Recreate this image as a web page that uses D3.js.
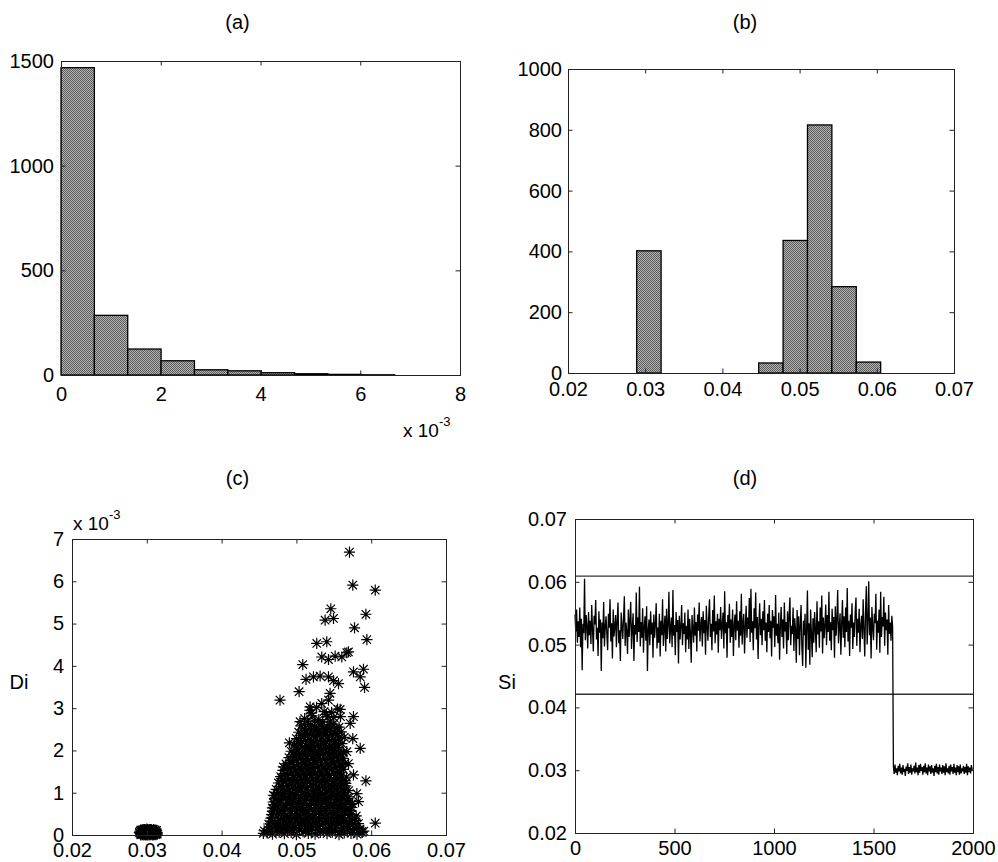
<!DOCTYPE html>
<html>
<head>
<meta charset="utf-8">
<script src="https://cdn.jsdelivr.net/npm/d3@7"></script>
<style>
  html, body { margin: 0; padding: 0; background: #fff; }
  svg { display: block; }
  text { font-family: "Liberation Sans", Arial, Helvetica, sans-serif; fill: #000; }
</style>
</head>
<body>
<svg id="fig" width="998" height="862"></svg>
<script>
// ---------------- data ----------------
// (a) histogram of Di, bin edges in units of 10^-3
const diBinEdges = [0, 0.669, 1.338, 2.007, 2.676, 3.345, 4.014, 4.683, 5.352, 6.021, 6.69];
const diCounts   = [1468, 285, 124, 68, 25, 20, 11, 6, 3, 1];
const diTicks    = [0, 2, 4, 6, 8];
const countTicksA = [0, 500, 1000, 1500];

// (b) histogram of Si
const siBinEdges = [0.0289, 0.03206, 0.03522, 0.03838, 0.04154, 0.0447, 0.04786, 0.05102, 0.05418, 0.05734, 0.0605];
const siCounts   = [402, 0, 0, 0, 0, 33, 436, 816, 284, 36];
const siTicks    = [0.02, 0.03, 0.04, 0.05, 0.06, 0.07];
const countTicksB = [0, 200, 400, 600, 800, 1000];

// (c) Di against Si, pairs [Si, Di (10^-3)]
const scatterPoints = [
  // group near Si = 0.03
  [0.0292,0.02],[0.0295,0.08],[0.0298,0.01],[0.0300,0.11],[0.0303,0.04],[0.0306,0.09],[0.0309,0.02],[0.0311,0.07],
  [0.0313,0.03],[0.0294,0.12],[0.0297,0.05],[0.0301,0.00],[0.0304,0.13],[0.0307,0.05],[0.0310,0.10],[0.0299,0.07],
  [0.0302,0.03],[0.0296,0.00],[0.0308,0.00],[0.0305,0.01],[0.0293,0.06],[0.0312,0.01],[0.0300,0.14],[0.0303,0.10],
  [0.0291,0.04],[0.0294,0.01],[0.0297,0.10],[0.0299,0.03],[0.0302,0.08],[0.0305,0.12],[0.0308,0.06],[0.0311,0.12],
  [0.0314,0.05],[0.0293,0.10],[0.0296,0.13],[0.0298,0.05],[0.0301,0.09],[0.0304,0.02],[0.0307,0.11],[0.0309,0.08],
  [0.0312,0.09],[0.0295,0.03],[0.0300,0.05],[0.0306,0.03],[0.0310,0.04],[0.0298,0.12],[0.0303,0.00],[0.0313,0.11],
  [0.0291,0.09],[0.0292,0.12],[0.0294,0.05],[0.0296,0.07],[0.0297,0.02],[0.0299,0.11],[0.0300,0.02],[0.0301,0.13],
  [0.0302,0.06],[0.0303,0.13],[0.0304,0.07],[0.0305,0.05],[0.0306,0.13],[0.0307,0.01],[0.0308,0.10],[0.0309,0.13],
  [0.0310,0.01],[0.0311,0.03],[0.0312,0.05],[0.0313,0.07],[0.0314,0.02],[0.0295,0.11],[0.0298,0.09],[0.0290,0.06],
  [0.0292,0.00],[0.0299,0.00],[0.0305,0.09],[0.0310,0.07],[0.0297,0.13],[0.0302,0.11],
  // main group
  [0.0461,0.05],[0.0468,0.02],[0.0477,0.07],[0.0484,0.03],[0.0493,0.06],[0.0500,0.01],[0.0509,0.08],[0.0516,0.04],
  [0.0525,0.02],[0.0532,0.06],[0.0541,0.03],[0.0548,0.07],[0.0557,0.01],[0.0564,0.05],[0.0573,0.04],[0.0581,0.02],[0.0588,0.06],
  [0.0457,0.10],[0.0465,0.12],[0.0473,0.09],[0.0480,0.11],[0.0488,0.13],[0.0496,0.10],[0.0504,0.12],[0.0512,0.09],
  [0.0520,0.11],[0.0528,0.13],[0.0536,0.10],[0.0544,0.12],[0.0552,0.09],[0.0560,0.11],[0.0568,0.13],[0.0576,0.10],[0.0584,0.12],[0.0590,0.09],
  [0.0464,0.18],[0.0472,0.21],[0.0481,0.15],[0.0489,0.20],[0.0497,0.17],[0.0505,0.22],[0.0513,0.16],[0.0521,0.19],
  [0.0529,0.21],[0.0537,0.15],[0.0545,0.18],[0.0553,0.22],[0.0561,0.17],[0.0569,0.20],[0.0577,0.16],[0.0585,0.14],
  [0.0463,0.26],[0.0471,0.28],[0.0479,0.25],[0.0487,0.27],[0.0495,0.26],[0.0503,0.28],[0.0511,0.25],[0.0519,0.27],
  [0.0527,0.26],[0.0535,0.28],[0.0543,0.25],[0.0551,0.27],[0.0559,0.26],[0.0567,0.28],[0.0575,0.25],[0.0583,0.27],
  [0.0466,0.33],[0.0475,0.30],[0.0483,0.35],[0.0491,0.31],[0.0499,0.36],[0.0507,0.32],[0.0515,0.34],[0.0523,0.30],
  [0.0531,0.36],[0.0539,0.33],[0.0547,0.31],[0.0555,0.35],[0.0563,0.32],[0.0571,0.30],[0.0579,0.34],
  [0.0466,0.40],[0.0474,0.42],[0.0482,0.39],[0.0490,0.41],[0.0498,0.40],[0.0506,0.42],[0.0514,0.39],[0.0522,0.41],
  [0.0530,0.40],[0.0538,0.42],[0.0546,0.39],[0.0554,0.41],[0.0562,0.40],[0.0570,0.42],[0.0578,0.39],
  [0.0467,0.48],[0.0476,0.51],[0.0485,0.46],[0.0493,0.50],[0.0501,0.47],[0.0509,0.52],[0.0517,0.45],[0.0525,0.49],
  [0.0533,0.51],[0.0541,0.47],[0.0549,0.50],[0.0557,0.46],[0.0565,0.52],[0.0573,0.48],[0.0580,0.45],
  [0.0468,0.56],[0.0476,0.58],[0.0484,0.55],[0.0492,0.57],[0.0500,0.56],[0.0508,0.58],[0.0516,0.55],[0.0524,0.57],
  [0.0532,0.56],[0.0540,0.58],[0.0548,0.55],[0.0556,0.57],[0.0564,0.56],[0.0572,0.58],
  [0.0468,0.64],[0.0478,0.61],[0.0486,0.66],[0.0494,0.62],[0.0502,0.67],[0.0510,0.60],[0.0518,0.65],[0.0526,0.63],
  [0.0534,0.61],[0.0542,0.66],[0.0550,0.62],[0.0558,0.64],[0.0566,0.60],[0.0574,0.65],
  [0.0470,0.71],[0.0478,0.73],[0.0486,0.70],[0.0494,0.72],[0.0502,0.71],[0.0510,0.73],[0.0518,0.70],[0.0526,0.72],
  [0.0534,0.71],[0.0542,0.73],[0.0550,0.70],[0.0558,0.72],[0.0566,0.71],[0.0573,0.73],
  [0.0469,0.78],[0.0479,0.81],[0.0487,0.76],[0.0495,0.80],[0.0503,0.77],[0.0511,0.82],[0.0519,0.75],[0.0527,0.79],
  [0.0535,0.81],[0.0543,0.77],[0.0551,0.80],[0.0559,0.76],[0.0567,0.82],[0.0575,0.74],
  [0.0474,0.86],[0.0482,0.88],[0.0490,0.85],[0.0498,0.87],[0.0506,0.86],[0.0514,0.88],[0.0522,0.85],[0.0530,0.87],
  [0.0538,0.86],[0.0546,0.88],[0.0554,0.85],[0.0562,0.87],[0.0569,0.86],
  [0.0471,0.93],[0.0481,0.96],[0.0489,0.91],[0.0497,0.95],[0.0505,0.92],[0.0513,0.97],[0.0521,0.90],[0.0529,0.94],
  [0.0537,0.96],[0.0545,0.91],[0.0553,0.95],[0.0561,0.92],[0.0569,0.90],
  [0.0476,1.00],[0.0484,1.02],[0.0492,0.99],[0.0500,1.01],[0.0508,1.00],[0.0516,1.02],[0.0524,0.99],[0.0532,1.01],
  [0.0540,1.00],[0.0548,1.02],[0.0556,0.99],[0.0564,1.01],
  [0.0473,1.08],[0.0483,1.11],[0.0491,1.06],[0.0499,1.10],[0.0507,1.07],[0.0515,1.12],[0.0523,1.05],[0.0531,1.09],
  [0.0539,1.11],[0.0547,1.06],[0.0555,1.10],[0.0563,1.07],[0.0570,1.05],
  [0.0478,1.15],[0.0487,1.17],[0.0495,1.14],[0.0503,1.16],[0.0511,1.15],[0.0519,1.17],[0.0527,1.14],[0.0535,1.16],
  [0.0543,1.15],[0.0551,1.17],[0.0559,1.14],[0.0566,1.16],
  [0.0476,1.23],[0.0486,1.26],[0.0494,1.21],[0.0502,1.25],[0.0510,1.22],[0.0518,1.27],[0.0526,1.20],[0.0534,1.24],
  [0.0542,1.26],[0.0550,1.21],[0.0558,1.25],[0.0566,1.22],
  [0.0481,1.30],[0.0490,1.32],[0.0498,1.29],[0.0506,1.31],[0.0514,1.30],[0.0522,1.32],[0.0530,1.29],[0.0538,1.31],
  [0.0546,1.30],[0.0554,1.32],[0.0562,1.29],
  [0.0479,1.38],[0.0488,1.41],[0.0496,1.36],[0.0504,1.40],[0.0512,1.37],[0.0520,1.42],[0.0528,1.35],[0.0536,1.39],
  [0.0544,1.41],[0.0552,1.36],[0.0560,1.40],[0.0567,1.37],
  [0.0485,1.45],[0.0494,1.47],[0.0502,1.44],[0.0510,1.46],[0.0518,1.45],[0.0526,1.47],[0.0534,1.44],[0.0542,1.46],
  [0.0550,1.45],[0.0558,1.47],
  [0.0482,1.53],[0.0491,1.56],[0.0499,1.51],[0.0507,1.55],[0.0515,1.52],[0.0523,1.57],[0.0531,1.50],[0.0539,1.54],
  [0.0547,1.56],[0.0555,1.51],[0.0563,1.55],
  [0.0489,1.60],[0.0497,1.62],[0.0505,1.59],[0.0513,1.61],[0.0521,1.60],[0.0529,1.62],[0.0537,1.59],[0.0545,1.61],
  [0.0553,1.60],[0.0560,1.62],
  [0.0486,1.68],[0.0494,1.71],[0.0502,1.66],[0.0510,1.70],[0.0518,1.67],[0.0526,1.72],[0.0534,1.65],[0.0542,1.69],
  [0.0550,1.71],[0.0558,1.66],[0.0565,1.70],
  [0.0492,1.76],[0.0500,1.78],[0.0508,1.75],[0.0516,1.77],[0.0524,1.76],[0.0532,1.78],[0.0540,1.75],[0.0548,1.77],[0.0556,1.76],
  [0.0490,1.83],[0.0498,1.86],[0.0506,1.81],[0.0514,1.85],[0.0522,1.82],[0.0530,1.87],[0.0538,1.80],[0.0546,1.84],
  [0.0554,1.86],[0.0562,1.81],
  [0.0496,1.91],[0.0504,1.93],[0.0512,1.90],[0.0520,1.92],[0.0528,1.91],[0.0536,1.93],[0.0544,1.90],[0.0552,1.92],[0.0559,1.91],
  [0.0493,1.98],[0.0501,2.01],[0.0509,1.96],[0.0517,2.00],[0.0525,1.97],[0.0533,2.02],[0.0541,1.95],[0.0549,1.99],
  [0.0557,2.01],[0.0563,1.96],
  [0.0500,2.06],[0.0508,2.08],[0.0516,2.05],[0.0524,2.07],[0.0532,2.06],[0.0540,2.08],[0.0548,2.05],[0.0556,2.07],
  [0.0497,2.13],[0.0505,2.16],[0.0513,2.11],[0.0521,2.15],[0.0529,2.12],[0.0537,2.17],[0.0545,2.10],[0.0553,2.14],[0.0561,2.16],
  [0.0503,2.21],[0.0512,2.23],[0.0520,2.20],[0.0528,2.22],[0.0536,2.21],[0.0544,2.23],[0.0552,2.20],
  [0.0500,2.28],[0.0509,2.31],[0.0517,2.26],[0.0525,2.30],[0.0533,2.27],[0.0541,2.32],[0.0549,2.25],[0.0557,2.29],[0.0564,2.31],
  [0.0507,2.36],[0.0515,2.38],[0.0523,2.35],[0.0531,2.37],[0.0539,2.36],[0.0547,2.38],[0.0555,2.35],
  [0.0503,2.43],[0.0512,2.46],[0.0520,2.41],[0.0528,2.45],[0.0536,2.42],[0.0544,2.47],[0.0552,2.40],[0.0560,2.44],
  [0.0511,2.51],[0.0519,2.53],[0.0527,2.50],[0.0537,2.52],[0.0545,2.51],[0.0553,2.53],
  [0.0506,2.58],[0.0516,2.61],[0.0524,2.56],[0.0533,2.60],[0.0541,2.57],[0.0549,2.62],[0.0557,2.55],
  [0.0515,2.68],[0.0525,2.70],[0.0535,2.67],[0.0545,2.69],
  [0.0511,2.75],[0.0521,2.82],[0.0530,2.73],[0.0540,2.85],[0.0550,2.78],[0.0559,2.80],
  [0.0520,2.88],[0.0537,2.92],[0.0542,2.80],
  [0.0518,2.95],[0.0527,3.02],[0.0547,2.90],[0.0555,2.98],
  // scattered high values
  [0.0571,6.69],[0.05754,5.91],[0.06054,5.79],[0.0546,5.35],[0.05384,5.08],[0.05496,5.12],[0.05929,5.22],
  [0.05777,4.90],[0.05942,4.62],[0.05272,4.53],[0.05406,4.57],[0.05339,4.21],[0.05429,4.15],[0.05518,4.23],
  [0.05607,4.21],[0.05674,4.31],[0.05696,4.33],[0.05085,4.03],[0.05763,3.86],[0.05897,3.92],[0.05853,3.74],
  [0.05911,3.49],[0.05129,3.68],[0.05228,3.74],[0.05317,3.76],[0.05429,3.74],[0.05496,3.65],[0.05563,3.58],
  [0.0545,3.35],[0.05429,3.19],[0.05339,3.11],[0.05036,3.39],[0.04781,3.19],[0.05183,3.03],[0.05585,2.97],
  [0.05763,2.80],[0.05719,2.64],[0.05049,2.68],[0.05754,2.28],[0.05853,2.05],[0.04906,2.18],[0.04826,1.61],
  [0.04804,1.34],[0.05929,1.28],[0.06054,0.28],[0.05875,0.08],[0.04558,0.04],[0.04692,0.94],[0.04714,0.71],
  [0.05763,1.42],[0.05808,0.98],[0.0583,0.79],[0.05696,1.69],[0.05674,1.97]
];
const scatterDiTicks = [0, 1, 2, 3, 4, 5, 6, 7];

// (d) Si sampled every 4 steps, plus the two control limits
const sampleStep = 4;
const siSeries = [
  0.0548,0.0521,0.0556,0.0503,0.0537,0.0512,0.0559,0.0496,0.0541,0.0459,0.0533,0.0518,0.0605,0.0507,0.0547,0.0529,0.0494,0.0552,0.0515,0.0538,
  0.0501,0.0563,0.0524,0.0489,0.0546,0.0532,0.0571,0.0508,0.0527,0.0482,0.0553,0.0519,0.0540,0.0458,0.0535,0.0510,0.0568,0.0497,0.0528,0.0545,
  0.0516,0.0491,0.0549,0.0527,0.0572,0.0505,0.0534,0.0478,0.0556,0.0513,0.0529,0.0547,0.0496,0.0538,0.0567,0.0502,0.0523,0.0474,0.0551,0.0530,
  0.0509,0.0544,0.0577,0.0498,0.0535,0.0521,0.0485,0.0556,0.0512,0.0539,0.0568,0.0493,0.0527,0.0550,0.0474,0.0531,0.0516,0.0583,0.0504,0.0543,
  0.0520,0.0592,0.0497,0.0536,0.0511,0.0558,0.0487,0.0529,0.0545,0.0506,0.0561,0.0458,0.0524,0.0540,0.0499,0.0553,0.0516,0.0535,0.0479,0.0548,
  0.0511,0.0532,0.0566,0.0494,0.0527,0.0503,0.0549,0.0481,0.0538,0.0515,0.0572,0.0498,0.0526,0.0546,0.0489,0.0557,0.0509,0.0533,0.0584,0.0502,
  0.0525,0.0543,0.0496,0.0587,0.0514,0.0531,0.0483,0.0552,0.0520,0.0539,0.0470,0.0546,0.0508,0.0529,0.0563,0.0499,0.0534,0.0517,0.0551,0.0488,
  0.0530,0.0508,0.0556,0.0493,0.0541,0.0519,0.0471,0.0547,0.0525,0.0503,0.0559,0.0514,0.0536,0.0489,0.0548,0.0522,0.0567,0.0505,0.0531,0.0544,
  0.0497,0.0553,0.0518,0.0539,0.0484,0.0562,0.0527,0.0506,0.0545,0.0572,0.0512,0.0533,0.0491,0.0555,0.0521,0.0578,0.0502,0.0537,0.0516,0.0549,
  0.0487,0.0541,0.0523,0.0560,0.0509,0.0532,0.0551,0.0494,0.0585,0.0518,0.0536,0.0479,0.0547,0.0526,0.0565,0.0503,0.0540,0.0512,0.0556,0.0482,
  0.0531,0.0548,0.0507,0.0569,0.0522,0.0538,0.0495,0.0553,0.0514,0.0581,0.0500,0.0535,0.0549,0.0486,0.0529,0.0562,0.0511,0.0543,0.0525,0.0574,
  0.0504,0.0589,0.0519,0.0537,0.0491,0.0558,0.0526,0.0583,0.0508,0.0544,0.0477,0.0532,0.0566,0.0515,0.0541,0.0499,0.0553,0.0523,0.0571,0.0506,
  0.0535,0.0488,0.0549,0.0520,0.0563,0.0510,0.0538,0.0481,0.0555,0.0527,0.0545,0.0496,0.0579,0.0514,0.0533,0.0502,0.0551,0.0476,0.0529,0.0560,
  0.0512,0.0540,0.0494,0.0567,0.0521,0.0536,0.0485,0.0553,0.0507,0.0548,0.0575,0.0499,0.0530,0.0517,0.0559,0.0490,0.0542,0.0524,0.0471,0.0555,
  0.0509,0.0545,0.0483,0.0531,0.0563,0.0497,0.0466,0.0538,0.0515,0.0549,0.0463,0.0527,0.0586,0.0492,0.0534,0.0468,0.0556,0.0518,0.0480,0.0542,
  0.0503,0.0552,0.0525,0.0488,0.0569,0.0516,0.0537,0.0495,0.0559,0.0521,0.0578,0.0486,0.0543,0.0510,0.0531,0.0564,0.0499,0.0547,0.0520,0.0584,
  0.0506,0.0536,0.0491,0.0557,0.0523,0.0544,0.0479,0.0561,0.0514,0.0539,0.0587,0.0502,0.0528,0.0550,0.0484,0.0533,0.0571,0.0511,0.0545,0.0496,
  0.0559,0.0520,0.0590,0.0505,0.0538,0.0482,0.0548,0.0527,0.0566,0.0493,0.0535,0.0512,0.0552,0.0575,0.0498,0.0541,0.0519,0.0557,0.0488,0.0530,
  0.0546,0.0509,0.0572,0.0524,0.0481,0.0553,0.0593,0.0500,0.0537,0.0601,0.0515,0.0543,0.0478,0.0560,0.0527,0.0507,0.0549,0.0534,0.0581,0.0492,
  0.0538,0.0519,0.0556,0.0487,0.0584,0.0512,0.0544,0.0529,0.0576,0.0498,0.0551,0.0523,0.0540,0.0484,0.0563,0.0517,0.0535,0.0506,0.0546,0.0529,
  // after the shift at t = 1600
  0.0306,0.0294,0.0309,0.0296,0.0303,0.0292,0.0307,0.0298,0.0310,0.0295,0.0304,0.0293,0.0308,0.0297,0.0302,0.0291,0.0306,0.0299,0.0311,0.0294,
  0.0305,0.0296,0.0309,0.0293,0.0303,0.0298,0.0307,0.0295,0.0312,0.0297,0.0304,0.0292,0.0308,0.0296,0.0310,0.0299,0.0305,0.0293,0.0307,0.0297,
  0.0311,0.0295,0.0304,0.0292,0.0309,0.0298,0.0306,0.0294,0.0308,0.0296,0.0303,0.0291,0.0307,0.0297,0.0310,0.0295,0.0305,0.0293,0.0309,0.0298,
  0.0304,0.0294,0.0308,0.0296,0.0306,0.0292,0.0311,0.0297,0.0303,0.0295,0.0307,0.0293,0.0309,0.0298,0.0305,0.0294,0.0310,0.0296,0.0304,0.0292,
  0.0308,0.0297,0.0306,0.0293,0.0309,0.0295,0.0303,0.0298,0.0307,0.0294,0.0305,0.0296,0.0310,0.0292,0.0306,0.0297,0.0304,0.0295,0.0308,0.0300
];
const controlLimits = [0.0609, 0.0421];
const timeTicks = [0, 500, 1000, 1500, 2000];
const siTicksD  = [0.02, 0.03, 0.04, 0.05, 0.06, 0.07];

// ---------------- drawing ----------------
const svg = d3.select("#fig");
const FONT = "'Liberation Sans', Arial, Helvetica, sans-serif";
const TICK = 4.5;

// fine dither used for the bar faces
const defs = svg.append("defs");
const pat = defs.append("pattern").attr("id", "dither")
  .attr("patternUnits", "userSpaceOnUse").attr("width", 2).attr("height", 2);
pat.append("rect").attr("width", 2).attr("height", 2).attr("fill", "#b4b4b4");
pat.append("rect").attr("width", 1).attr("height", 1).attr("fill", "#5a5a5a");
pat.append("rect").attr("x", 1).attr("y", 1).attr("width", 1).attr("height", 1).attr("fill", "#5a5a5a");

function styleAxis(sel) {
  sel.attr("font-size", 20).attr("font-family", FONT).attr("color", "#000");
  sel.select(".domain").remove();
  sel.selectAll(".tick line").attr("stroke", "#222");
}

function frame(p, x, y, o) {
  const g = svg.append("g");
  g.append("g").attr("transform", `translate(0,${p.b})`)
    .call(d3.axisBottom(x).tickValues(o.xt).tickFormat(o.xf).tickSize(-TICK).tickPadding(o.xpad))
    .call(styleAxis);
  g.append("g").attr("transform", `translate(0,${p.t})`)
    .call(d3.axisTop(x).tickValues(o.xt).tickFormat("").tickSize(-TICK))
    .call(styleAxis);
  g.append("g").attr("transform", `translate(${p.l},0)`)
    .call(d3.axisLeft(y).tickValues(o.yt).tickFormat(o.yf).tickSize(-TICK).tickPadding(o.ypad))
    .call(styleAxis);
  g.append("g").attr("transform", `translate(${p.r},0)`)
    .call(d3.axisRight(y).tickValues(o.yt).tickFormat("").tickSize(-TICK))
    .call(styleAxis);
  g.append("rect")
    .attr("x", p.l + 0.5).attr("y", p.t + 0.5)
    .attr("width", p.r - p.l).attr("height", p.b - p.t)
    .attr("fill", "none").attr("stroke", "#222").attr("stroke-width", 1);
  return g;
}

function title(txt, cx, by) {
  svg.append("text").attr("x", cx).attr("y", by).attr("text-anchor", "middle")
    .attr("font-size", 20).text(txt);
}

function exponentLabel(x0, by) {
  const t = svg.append("text").attr("x", x0).attr("y", by).attr("font-size", 19);
  t.append("tspan").text("x 10");
  t.append("tspan").attr("font-size", 13).attr("dy", -11).text("-3");
}

function histogram(p, x, y, edges, counts) {
  const bars = counts.map((c, i) => ({ lo: edges[i], hi: edges[i + 1], c }));
  svg.append("g").selectAll("rect").data(bars).join("rect")
    .attr("x", d => x(d.lo)).attr("y", d => y(d.c))
    .attr("width", d => x(d.hi) - x(d.lo)).attr("height", d => y(0) - y(d.c))
    .attr("fill", "url(#dither)").attr("stroke", "#000").attr("stroke-width", 1.3);
}

// panel (a)
{
  const p = { l: 61, r: 460, t: 61, b: 375 };
  const x = d3.scaleLinear().domain([0, 8]).range([p.l, p.r]);
  const y = d3.scaleLinear().domain([0, 1500]).range([p.b, p.t]);
  histogram(p, x, y, diBinEdges, diCounts);
  frame(p, x, y, { xt: diTicks, xf: d3.format("d"), xpad: 12, yt: countTicksA, yf: d3.format("d"), ypad: 7 });
  title("(a)", 237.5, 28.5);
  exponentLabel(403, 437);
}

// panel (b)
{
  const p = { l: 568, r: 954, t: 69, b: 373 };
  const x = d3.scaleLinear().domain([0.02, 0.07]).range([p.l, p.r]);
  const y = d3.scaleLinear().domain([0, 1000]).range([p.b, p.t]);
  histogram(p, x, y, siBinEdges, siCounts);
  frame(p, x, y, { xt: siTicks, xf: d3.format(".2f"), xpad: 9, yt: countTicksB, yf: d3.format("d"), ypad: 6 });
  title("(b)", 745, 28.5);
}

// panel (c)
{
  const p = { l: 72, r: 446, t: 539, b: 835 };
  const x = d3.scaleLinear().domain([0.02, 0.07]).range([p.l, p.r]);
  const y = d3.scaleLinear().domain([0, 7]).range([p.b, p.t]);
  const s = 5.6, d = 4.2;
  const star = `M${-s},0H${s}M0,${-s}V${s}M${-d},${-d}L${d},${d}M${-d},${d}L${d},${-d}`;
  svg.append("g").selectAll("path").data(scatterPoints).join("path")
    .attr("transform", v => `translate(${x(v[0])},${y(v[1])})`)
    .attr("d", star).attr("fill", "none").attr("stroke", "#000").attr("stroke-width", 1.2);
  frame(p, x, y, { xt: siTicks, xf: d3.format(".2f"), xpad: 8, yt: scatterDiTicks, yf: d3.format("d"), ypad: 8 });
  title("(c)", 237.5, 485);
  exponentLabel(73, 530);
  svg.append("text").attr("x", 19).attr("y", 689).attr("text-anchor", "middle").attr("font-size", 20).text("Di");
}

// panel (d)
{
  const p = { l: 575, r: 973, t: 519, b: 833 };
  const x = d3.scaleLinear().domain([0, 2000]).range([p.l, p.r]);
  const y = d3.scaleLinear().domain([0.02, 0.07]).range([p.b, p.t]);
  svg.append("g").selectAll("line").data(controlLimits).join("line")
    .attr("x1", p.l).attr("x2", p.r).attr("y1", v => y(v)).attr("y2", v => y(v))
    .attr("stroke", "#333").attr("stroke-width", 1.4);
  const line = d3.line().x((v, i) => x(i * sampleStep)).y(v => y(v));
  svg.append("path").datum(siSeries).attr("d", line)
    .attr("fill", "none").attr("stroke", "#000").attr("stroke-width", 1.3);
  frame(p, x, y, { xt: timeTicks, xf: d3.format("d"), xpad: 8, yt: siTicksD, yf: d3.format(".2f"), ypad: 8 });
  title("(d)", 745, 485);
  svg.append("text").attr("x", 507).attr("y", 689).attr("text-anchor", "middle").attr("font-size", 20).text("Si");
}
</script>
</body>
</html>
